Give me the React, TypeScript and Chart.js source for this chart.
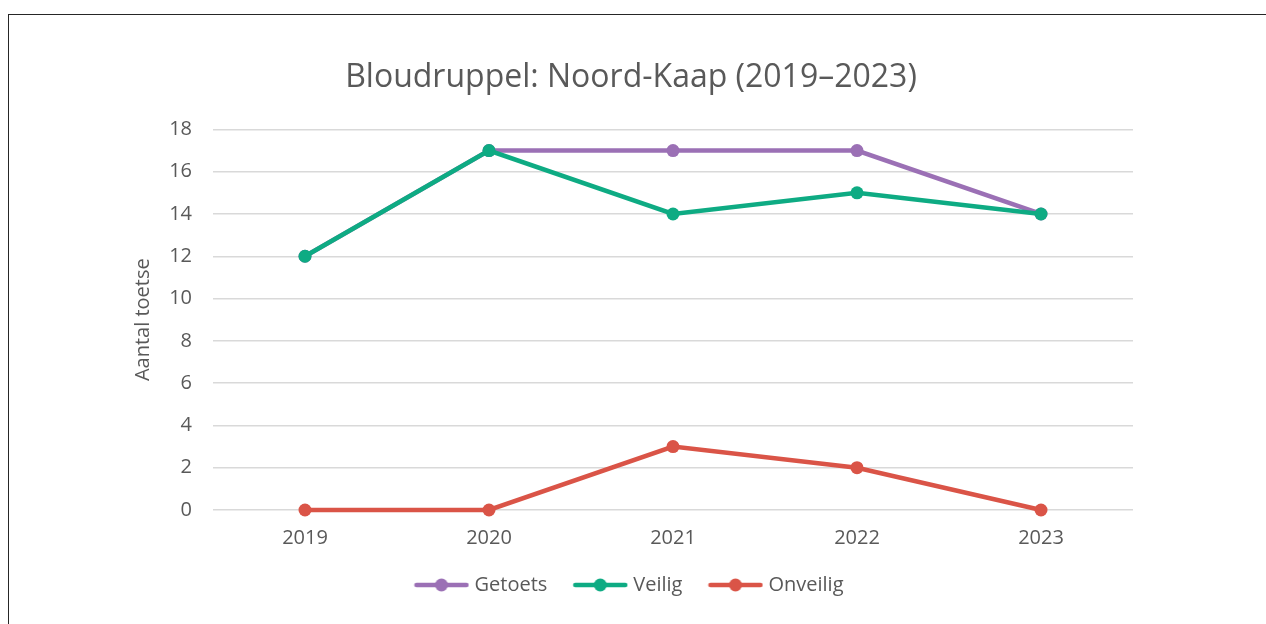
import React, { useEffect, useRef } from "react";
import { Chart, registerables } from "chart.js";

Chart.register(...registerables);

const categories = ["2019", "2020", "2021", "2022", "2023"];
const getoets = [12, 17, 17, 17, 14];
const veilig = [12, 17, 14, 15, 14];
const onveilig = [0, 0, 3, 2, 0];
const seriesNames = ["Getoets", "Veilig", "Onveilig"];
const seriesColors = ["#9B70B5", "#0EAB83", "#DA5447"];

const FONT = "'Open Sans', 'DejaVu Sans', sans-serif";
const TEXT = "#595959";

function legendIcon(color: string): HTMLCanvasElement {
  const c = document.createElement("canvas");
  c.width = 56;
  c.height = 14;
  const ctx = c.getContext("2d")!;
  ctx.strokeStyle = color;
  ctx.lineWidth = 4.5;
  ctx.lineCap = "round";
  ctx.beginPath();
  ctx.moveTo(3, 7);
  ctx.lineTo(53, 7);
  ctx.stroke();
  ctx.fillStyle = color;
  ctx.beginPath();
  ctx.arc(28, 7, 6.5, 0, Math.PI * 2);
  ctx.fill();
  return c;
}

export default function App() {
  const ref = useRef<HTMLCanvasElement | null>(null);

  useEffect(() => {
    if (!ref.current) return;
    const values = [getoets, veilig, onveilig];
    const chart = new Chart(ref.current, {
      type: "line",
      data: {
        labels: categories,
        datasets: seriesNames.map((name, i) => ({
          label: name,
          data: values[i],
          borderColor: seriesColors[i],
          backgroundColor: seriesColors[i],
          borderWidth: 4.5,
          pointRadius: 6.5,
          pointHoverRadius: 6.5,
          pointBorderWidth: 0,
          tension: 0,
          clip: false,
          order: 2 - i,
        })),
      },
      options: {
        responsive: false,
        animation: false,
        layout: { padding: { left: 129, right: 133, top: 0, bottom: 19 } },
        plugins: {
          tooltip: { enabled: false },
          title: {
            display: true,
            text: "Bloudruppel: Noord-Kaap (2019–2023)",
            color: TEXT,
            font: { family: FONT, size: 32, weight: "normal" },
            padding: { top: 59, bottom: 32 },
          },
          legend: {
            position: "bottom",
            labels: {
              usePointStyle: true,
              pointStyleWidth: 46,
              color: TEXT,
              font: { family: FONT, size: 20 },
              padding: 30,
              generateLabels: (ch: any) =>
                ch.data.datasets.map((ds: any, i: number) => ({
                  text: ds.label,
                  fillStyle: ds.borderColor,
                  strokeStyle: ds.borderColor,
                  lineWidth: 0,
                  pointStyle: legendIcon(ds.borderColor),
                  hidden: false,
                  datasetIndex: i,
                  fontColor: TEXT,
                })),
            },
          },
        },
        scales: {
          x: {
            offset: true,
            grid: { display: false, drawTicks: false },
            border: { display: false },
            ticks: {
              color: TEXT,
              font: { family: FONT, size: 20 },
              padding: 16,
            },
            afterFit: (scale: any) => {
              scale.height = 35;
            },
          },
          y: {
            min: 0,
            max: 18,
            ticks: {
              stepSize: 2,
              color: TEXT,
              font: { family: FONT, size: 20 },
              padding: 21,
            },
            grid: { color: "#D9D9D9", lineWidth: 1.5, drawTicks: false },
            border: { display: false },
            title: {
              display: true,
              text: "Aantal toetse",
              color: TEXT,
              font: { family: FONT, size: 20 },
              padding: { top: 2, bottom: 0 },
            },
            afterFit: (scale: any) => {
              scale.width = 84;
            },
          },
        },
      },
    } as any);
    return () => chart.destroy();
  }, []);

  return (
    <div style={{ position: "fixed", left: 0, top: 0, width: 1266, height: 624, background: "#fff" }}>
      <div
        style={{
          position: "absolute",
          left: 8,
          top: 14,
          width: 1300,
          height: 700,
          border: "1.5px solid #262626",
          boxSizing: "border-box",
        }}
      />
      <canvas ref={ref} width={1266} height={624} style={{ position: "absolute", left: 0, top: 0 }} />
    </div>
  );
}
